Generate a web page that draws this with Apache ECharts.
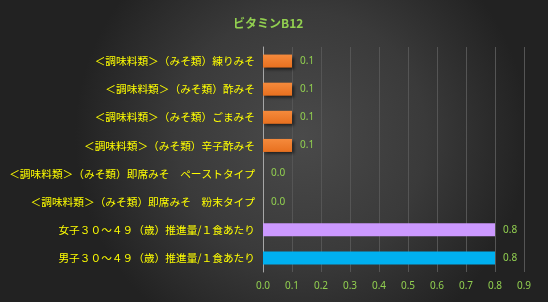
<!DOCTYPE html>
<html><head><meta charset="utf-8">
<script src="https://cdn.jsdelivr.net/npm/echarts@6/dist/echarts.min.js"></script>
<style>html,body{margin:0;padding:0;background:#2a2a2a}#c{width:548px;height:302px}</style>
</head><body><div id="c"></div>
<script>
const title = 'ビタミンB12';
const categories = [
  '＜調味料類＞（みそ類）練りみそ',
  '＜調味料類＞（みそ類）酢みそ',
  '＜調味料類＞（みそ類）ごまみそ',
  '＜調味料類＞（みそ類）辛子酢みそ',
  '＜調味料類＞（みそ類）即席みそ　ペーストタイプ',
  '＜調味料類＞（みそ類）即席みそ　粉末タイプ',
  '女子３０～４９（歳）推進量/１食あたり',
  '男子３０～４９（歳）推進量/１食あたり'
];
const values = [0.1, 0.1, 0.1, 0.1, 0.0, 0.0, 0.8, 0.8];
const xTicks = [0, 0.1, 0.2, 0.3, 0.4, 0.5, 0.6, 0.7, 0.8, 0.9];

const orange = {type:'linear',x:0,y:0,x2:0,y2:1,colorStops:[{offset:0,color:'#f58a3c'},{offset:1,color:'#e8701f'}]};
const barColors = [orange, orange, orange, orange, orange, orange, '#cc99ff', '#00b0f0'];

const chart = echarts.init(document.getElementById('c'), null, {renderer:'canvas'});
chart.setOption({
  animation:false,
  backgroundColor:{type:'radial',x:0.55,y:0.45,r:0.75,colorStops:[{offset:0,color:'#4a4a4a'},{offset:0.55,color:'#3a3a3a'},{offset:1,color:'#222222'}]},
  title:{text:title,left:228,top:12,textStyle:{color:'#92d050',fontSize:12,fontWeight:'bold',fontFamily:'Noto Sans CJK JP'}},
  grid:{left:263,right:24,top:47,bottom:30},
  xAxis:{type:'value',min:xTicks[0],max:xTicks[xTicks.length-1],interval:0.1,
    axisLine:{show:false},axisTick:{show:false},
    axisLabel:{color:'#92d050',fontSize:10,fontFamily:'Noto Sans',margin:9,formatter:v=>v.toFixed(1)},
    splitLine:{show:true,lineStyle:{color:'#555555',width:1}}},
  yAxis:{type:'category',data:categories,inverse:true,
    axisLine:{show:true,lineStyle:{color:'#a6a6a6',width:1}},axisTick:{show:false},
    axisLabel:{color:'#ffff00',fontSize:10.7,fontFamily:'Noto Sans CJK JP',margin:8}},
  series:[{type:'bar',barWidth:13,
    data:values.map((v,i)=>({value:v,itemStyle:{color:barColors[i],
      shadowColor:i<6?'rgba(0,0,0,0.6)':'rgba(0,0,0,0)',shadowBlur:i<6?3:0,shadowOffsetX:i<6?2:0,shadowOffsetY:i<6?2:0}})),
    label:{show:true,position:'right',distance:8,color:'#92d050',fontSize:10,fontFamily:'Noto Sans',formatter:p=>p.value.toFixed(1)}
  }]
});
</script></body></html>
